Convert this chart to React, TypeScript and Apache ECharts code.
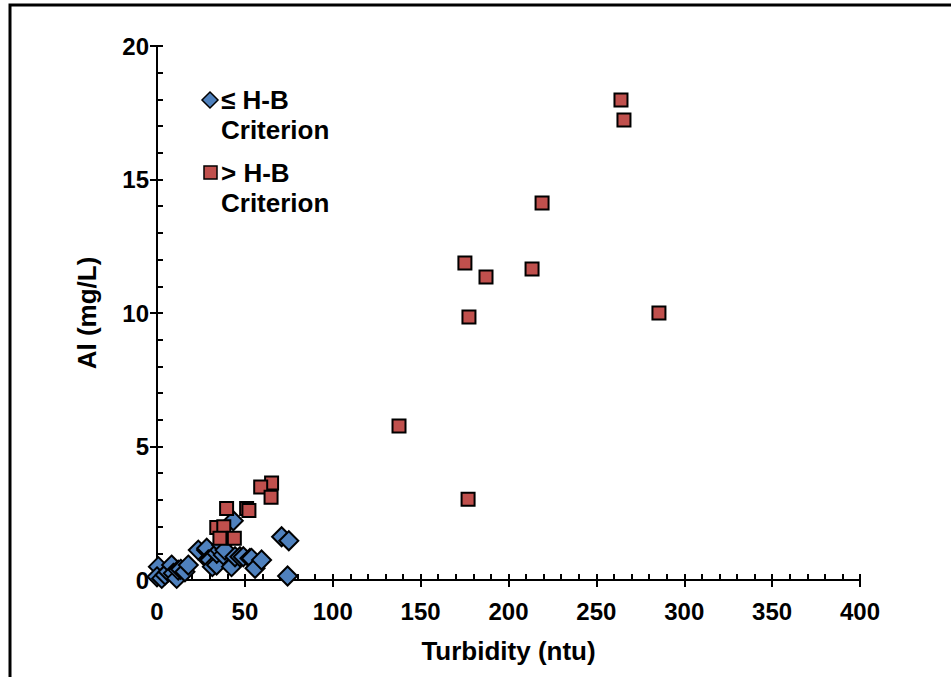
import React, { useEffect, useRef } from "react";
import * as echarts from "echarts";

// ≤ H-B Criterion (Turbidity ntu, Al mg/L)
const lowX = [0.8, 0, 2.7, 4.6, 6.4, 8.3, 9.3, 11.2, 12.1, 13.5, 15.9, 17.8, 23.5, 28.2, 28.3, 29.2, 30.2, 31.5, 33.9, 34.0, 35.8, 36.8, 37.7, 38.7, 42.4, 43.4, 44.4, 47.2, 49.1, 52.9, 53.8, 55.8, 59.5, 70.9, 75.0, 74.3];
const lowY = [0.50, 0.12, 0.06, 0.19, 0.31, 0.56, 0.25, 0.06, 0.37, 0.40, 0.31, 0.56, 1.12, 1.12, 1.19, 0.75, 0.75, 0.50, 0.56, 1.00, 1.12, 1.31, 0.94, 1.12, 0.50, 2.22, 0.87, 0.87, 0.87, 0.81, 0.81, 0.44, 0.75, 1.62, 1.47, 0.15];

// > H-B Criterion
const highX = [264.0, 265.7, 219.1, 175.2, 187.2, 213.4, 177.5, 285.6, 137.7, 177.0, 65.2, 59.0, 64.9, 39.6, 51.0, 52.3, 34.0, 38.0, 35.8, 44.0];
const highY = [17.98, 17.23, 14.12, 11.87, 11.35, 11.65, 9.85, 10.0, 5.77, 3.02, 3.63, 3.48, 3.10, 2.68, 2.68, 2.60, 1.97, 1.99, 1.56, 1.56];

const xTicks = { min: 0, max: 400, major: 50, minor: 10 };
const yTicks = { min: 0, max: 20, major: 5, minor: 1 };

const legendLow = ["≤ H-B", "Criterion"];
const legendHigh = ["> H-B", "Criterion"];

const FONT = "'Liberation Sans', Arial, sans-serif";
const BLUE = "#4F81BD";
const RED = "#C0504D";

export default function App() {
  const ref = useRef<HTMLDivElement>(null);
  useEffect(() => {
    if (!ref.current) return;
    const chart = echarts.init(ref.current, undefined, { renderer: "svg" });
    const lowData = lowX.map((x, i) => [x, lowY[i]]);
    const highData = highX.map((x, i) => [x, highY[i]]);
    const labelStyle = { color: "#000", fontWeight: "bold" as const, fontSize: 24, fontFamily: FONT };
    const nameStyle = { color: "#000", fontWeight: "bold" as const, fontSize: 26, fontFamily: FONT };
    const lineStyle = { color: "#000", width: 2 };
    const legendFont = `bold 26px ${FONT}`;
    chart.setOption({
      animation: false,
      backgroundColor: "#fff",
      grid: { left: 157, right: 91, top: 46, bottom: 97, containLabel: false },
      xAxis: [
        {
          type: "value", min: xTicks.min, max: xTicks.max, interval: xTicks.major, position: "bottom",
          axisLine: { show: true, onZero: false, lineStyle },
          axisTick: { show: true, inside: false, length: 7, lineStyle },
          axisLabel: { ...labelStyle, margin: 19 },
          splitLine: { show: false },
          name: "Turbidity (ntu)", nameLocation: "middle", nameGap: 58, nameTextStyle: nameStyle,
        },
        {
          type: "value", min: xTicks.min, max: xTicks.max, interval: xTicks.minor, position: "bottom",
          axisLine: { show: false },
          axisTick: { show: true, inside: true, length: 6, lineStyle },
          axisLabel: { show: false },
          splitLine: { show: false },
        },
      ],
      yAxis: [
        {
          type: "value", min: yTicks.min, max: yTicks.max, interval: yTicks.major, position: "left",
          axisLine: { show: true, onZero: false, lineStyle },
          axisTick: { show: true, inside: false, length: 7, lineStyle },
          axisLabel: { ...labelStyle, margin: 8 },
          splitLine: { show: false },
          name: "Al (mg/L)", nameLocation: "middle", nameGap: 57, nameRotate: 90, nameTextStyle: nameStyle,
        },
        {
          type: "value", min: yTicks.min, max: yTicks.max, interval: yTicks.minor, position: "left",
          axisLine: { show: false },
          axisTick: { show: true, inside: true, length: 6, lineStyle },
          axisLabel: { show: false },
          splitLine: { show: false },
        },
      ],
      series: [
        {
          name: legendLow.join(" "), type: "scatter", xAxisIndex: 0, yAxisIndex: 0,
          symbol: "diamond", symbolSize: 19, data: lowData,
          itemStyle: { color: BLUE, borderColor: "#000", borderWidth: 2, opacity: 1 },
        },
        {
          name: legendHigh.join(" "), type: "scatter", xAxisIndex: 0, yAxisIndex: 0,
          symbol: "rect", symbolSize: 13, data: highData,
          itemStyle: { color: RED, borderColor: "#000", borderWidth: 2, opacity: 1 },
        },
      ],
      graphic: [
        { type: "rect", shape: { x: 10, y: 5, width: 1000, height: 700 }, style: { fill: "none", stroke: "#000", lineWidth: 3 }, silent: true },
        { type: "polygon", shape: { points: [[210, 92], [218, 100], [210, 108], [202, 100]] }, style: { fill: BLUE, stroke: "#000", lineWidth: 1.5 } },
        { type: "text", x: 221, y: 100, style: { text: legendLow[0], font: legendFont, fill: "#000", verticalAlign: "middle" } },
        { type: "text", x: 221, y: 130, style: { text: legendLow[1], font: legendFont, fill: "#000", verticalAlign: "middle" } },
        { type: "rect", shape: { x: 204, y: 166, width: 13, height: 13 }, style: { fill: RED, stroke: "#000", lineWidth: 1.5 } },
        { type: "text", x: 221, y: 173, style: { text: legendHigh[0], font: legendFont, fill: "#000", verticalAlign: "middle" } },
        { type: "text", x: 221, y: 203, style: { text: legendHigh[1], font: legendFont, fill: "#000", verticalAlign: "middle" } },
      ],
    });
    return () => chart.dispose();
  }, []);
  return <div ref={ref} style={{ position: "fixed", left: 0, top: 0, width: 951, height: 677 }} />;
}
